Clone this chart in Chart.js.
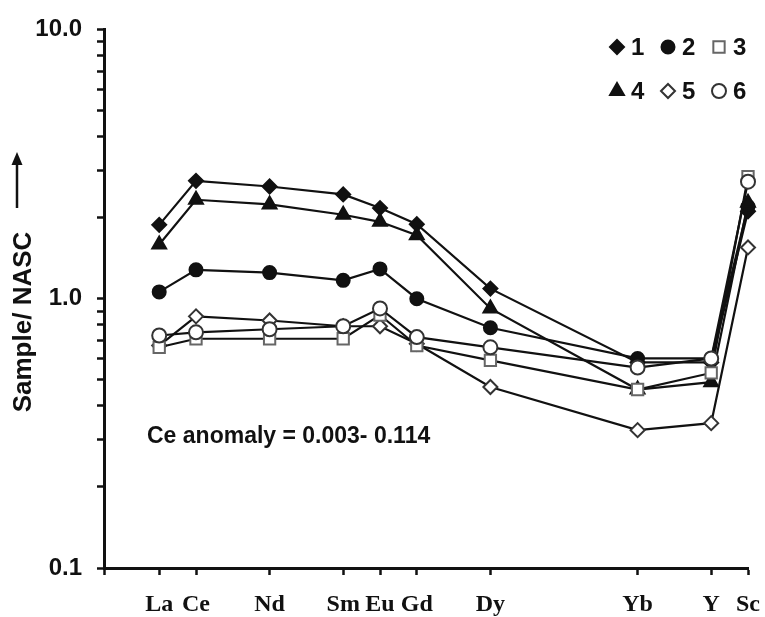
<!DOCTYPE html>
<html>
<head>
<meta charset="utf-8">
<script src="https://cdn.jsdelivr.net/npm/chart.js@4.4.0/dist/chart.umd.min.js"></script>
<style>
  html, body { margin: 0; background: #fff; }
  canvas { display: block; }
</style>
</head>
<body>
<canvas id="reeChart" width="765" height="617"></canvas>
<script>
// element order along the x axis and their slot on it (atomic-number like spacing)
var elements = ['La', 'Ce', 'Nd', 'Sm', 'Eu', 'Gd', 'Dy', 'Yb', 'Y', 'Sc'];
var xSlot = [57, 58, 60, 62, 63, 64, 66, 70, 72, 73];

// sample / NASC values
var s1 = [1.88, 2.74, 2.61, 2.44, 2.17, 1.89, 1.09, 0.58, 0.58, 2.11];
var s2 = [1.06, 1.28, 1.25, 1.17, 1.29, 1.00, 0.78, 0.60, 0.60, 2.20];
var s3 = [0.66, 0.71, 0.71, 0.71, 0.87, 0.67, 0.59, 0.46, 0.53, 2.84];
var s4 = [1.59, 2.33, 2.24, 2.05, 1.93, 1.72, 0.92, 0.46, 0.49, 2.27];
var s5 = [0.67, 0.86, 0.83, 0.79, 0.79, 0.68, 0.47, 0.325, 0.345, 1.55];
var s6 = [0.73, 0.75, 0.77, 0.79, 0.92, 0.72, 0.66, 0.555, 0.60, 2.72];

var seriesNames = ['1', '2', '3', '4', '5', '6'];
var yMajor = [0.1, 1, 10];
var note = 'Ce anomaly = 0.003- 0.114';
var yTitle = 'Sample/ NASC';

var xMin = 55.5, xMax = 73;

function pts(vals) {
    return vals.map(function (v, i) { return { x: xSlot[i], y: v }; });
}

// marker looks, one per series
var looks = [
    { style: 'rectRot', r: 7, fill: '#111', line: '#111' },
    { style: 'circle', r: 6.5, fill: '#111', line: '#111' },
    { style: 'rect', r: 8, fill: '#fff', line: '#666' },
    { style: 'triangle', r: 8, fill: '#111', line: '#111' },
    { style: 'rectRot', r: 7, fill: '#fff', line: '#333' },
    { style: 'circle', r: 7, fill: '#fff', line: '#333' }
];
var allSeries = [s1, s2, s3, s4, s5, s6];
var drawOrder = [6, 5, 2, 4, 3, 1];

var datasets = allSeries.map(function (vals, i) {
    return {
        label: seriesNames[i],
        data: pts(vals),
        borderColor: '#111',
        borderWidth: 2.2,
        pointStyle: looks[i].style,
        pointRadius: looks[i].r,
        pointBackgroundColor: looks[i].fill,
        pointBorderColor: looks[i].line,
        pointBorderWidth: 2,
        order: drawOrder[i],
        tension: 0,
        clip: false
    };
});

var yTicks = [];
yMajor.forEach(function (m, k) {
    if (k === yMajor.length - 1) { yTicks.push(m); return; }
    for (var j = 1; j < 10; j++) yTicks.push(+(m * j).toPrecision(3));
});

var extras = {
    id: 'extras',
    afterDraw: function (chart) {
        var ctx = chart.ctx;
        ctx.save();
        ctx.fillStyle = '#111';

        // y title + arrow
        ctx.save();
        ctx.translate(31, 322);
        ctx.rotate(-Math.PI / 2);
        ctx.font = 'bold 26px "Liberation Sans", Arial, sans-serif';
        ctx.textAlign = 'center';
        ctx.textBaseline = 'alphabetic';
        ctx.fillText(yTitle, 0, 0);
        ctx.restore();

        ctx.strokeStyle = '#111';
        ctx.lineWidth = 2.5;
        ctx.beginPath();
        ctx.moveTo(17, 208);
        ctx.lineTo(17, 162);
        ctx.stroke();
        ctx.beginPath();
        ctx.moveTo(17, 152);
        ctx.lineTo(11.5, 165);
        ctx.lineTo(22.5, 165);
        ctx.closePath();
        ctx.fill();

        // note
        ctx.font = 'bold 23px "Liberation Sans", Arial, sans-serif';
        ctx.textAlign = 'left';
        ctx.textBaseline = 'middle';
        ctx.fillText(note, 147, 437);

        // legend, two rows of three
        ctx.font = 'bold 24px "Liberation Sans", Arial, sans-serif';
        for (var i = 0; i < 6; i++) {
            var col = i % 3, row = Math.floor(i / 3);
            var mx = 617 + col * 51, my = 47 + row * 44;
            ctx.fillStyle = looks[i].fill;
            ctx.strokeStyle = looks[i].line;
            ctx.lineWidth = 2;
            Chart.helpers.drawPoint(ctx, {
                pointStyle: looks[i].style,
                radius: looks[i].r,
                rotation: 0,
                borderWidth: 2
            }, mx, my);
            ctx.fillStyle = '#111';
            ctx.fillText(seriesNames[i], mx + 14, my + 1);
        }
        ctx.restore();
    }
};

var ctx = document.getElementById('reeChart').getContext('2d');
var chart = new Chart(ctx, {
    type: 'line',
    data: { datasets: datasets },
    options: {
        responsive: false,
        animation: false,
        devicePixelRatio: 1,
        layout: { padding: { top: 21, right: 17, left: 0, bottom: 0 } },
        plugins: { legend: { display: false }, tooltip: { enabled: false } },
        scales: {
            x: {
                type: 'linear',
                min: xMin,
                max: xMax,
                afterBuildTicks: function (scale) {
                    scale.ticks = [{ value: xMin }].concat(xSlot.map(function (v) { return { value: v }; }));
                },
                afterFit: function (scale) {
                    scale.height = 49;
                    scale.paddingLeft = 0;
                    scale.paddingRight = 0;
                },
                ticks: {
                    autoSkip: false,
                    maxRotation: 0,
                    padding: 15,
                    color: '#111',
                    font: { family: '"Liberation Serif", "Times New Roman", serif', size: 24, weight: 'bold' },
                    callback: function (v) {
                        var k = xSlot.indexOf(v);
                        return k < 0 ? '' : elements[k];
                    }
                },
                grid: { drawOnChartArea: false, tickLength: 7, tickWidth: 2.5, tickColor: '#111' },
                border: { display: true, color: '#111', width: 3 }
            },
            y: {
                type: 'logarithmic',
                min: 0.1,
                max: 10,
                afterBuildTicks: function (scale) {
                    scale.ticks = yTicks.map(function (v) { return { value: v }; });
                },
                afterFit: function (scale) { scale.width = 104; },
                ticks: {
                    autoSkip: false,
                    padding: 15,
                    color: '#111',
                    font: { family: '"Liberation Sans", Arial, sans-serif', size: 24, weight: 'bold' },
                    callback: function (v) {
                        return yMajor.indexOf(v) >= 0 ? v.toFixed(1) : '';
                    }
                },
                grid: { drawOnChartArea: false, tickLength: 7, tickWidth: 2.5, tickColor: '#111' },
                border: { display: true, color: '#111', width: 3 }
            }
        }
    },
    plugins: [extras]
});
</script>
</body>
</html>
